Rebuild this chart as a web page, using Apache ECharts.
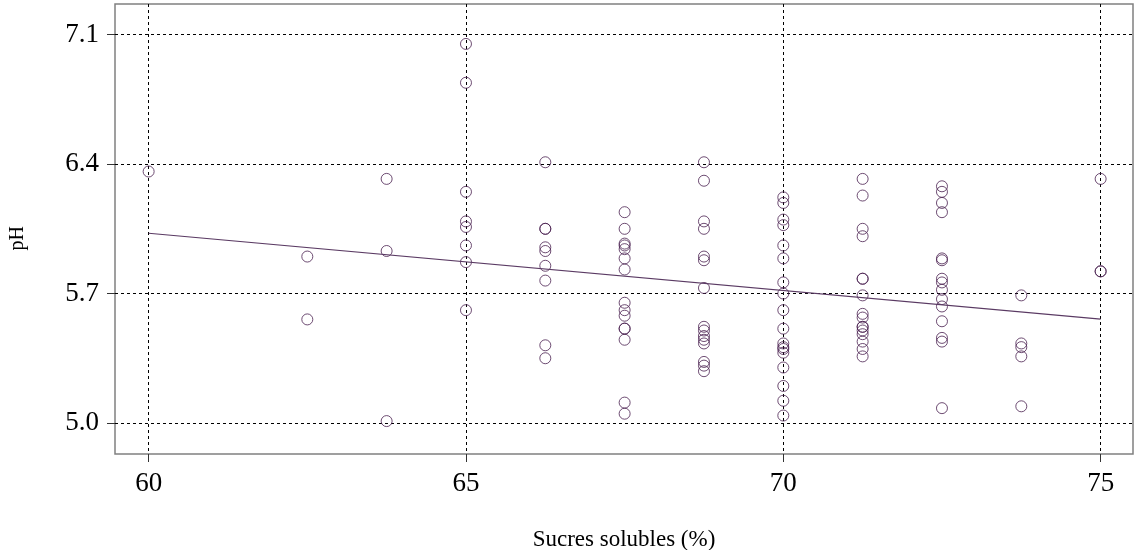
<!DOCTYPE html>
<html>
<head>
<meta charset="utf-8">
<script src="https://cdn.jsdelivr.net/npm/echarts@6/dist/echarts.min.js"></script>
<style>
  html, body { margin: 0; padding: 0; background: #fff; }
  #chart { width: 1134px; height: 550px; }
</style>
</head>
<body>
<div id="chart"></div>
<script>
// ---- Data ----
const xTicks = [60, 65, 70, 75];
const yTicks = [5.0, 5.7, 6.4, 7.1];

const ph_60_00 = [6.36];
const ph_62_50 = [5.90, 5.56];
const ph_63_75 = [6.32, 5.93, 5.01];
const ph_65_00 = [7.05, 6.84, 6.25, 6.09, 6.06, 5.96, 5.87, 5.61];
const ph_66_25 = [6.41, 6.05, 6.05, 5.95, 5.93, 5.85, 5.77, 5.42, 5.35];
const ph_67_50 = [6.14, 6.05, 5.97, 5.96, 5.94, 5.89, 5.83, 5.65, 5.61, 5.58, 5.51, 5.51, 5.45, 5.11, 5.05];
const ph_68_75 = [6.41, 6.31, 6.09, 6.05, 5.90, 5.88, 5.73, 5.52, 5.50, 5.47, 5.45, 5.43, 5.33, 5.31, 5.28];
const ph_70_00 = [6.22, 6.19, 6.10, 6.07, 5.96, 5.89, 5.76, 5.70, 5.61, 5.51, 5.43, 5.41, 5.40, 5.38, 5.30, 5.20, 5.12, 5.04];
const ph_71_25 = [6.32, 6.23, 6.05, 6.01, 5.78, 5.78, 5.69, 5.59, 5.57, 5.52, 5.52, 5.50, 5.48, 5.44, 5.40, 5.36];
const ph_72_50 = [6.28, 6.25, 6.19, 6.14, 5.89, 5.88, 5.78, 5.76, 5.72, 5.67, 5.63, 5.55, 5.46, 5.44, 5.08];
const ph_73_75 = [5.69, 5.43, 5.41, 5.36, 5.09];
const ph_75_00 = [6.32, 5.82, 5.82];

const sugarLevels = [60, 62.5, 63.75, 65, 66.25, 67.5, 68.75, 70, 71.25, 72.5, 73.75, 75];
const phColumns = [ph_60_00, ph_62_50, ph_63_75, ph_65_00, ph_66_25, ph_67_50,
                   ph_68_75, ph_70_00, ph_71_25, ph_72_50, ph_73_75, ph_75_00];

// fitted regression line end points
const fitX = [60, 75];
const fitY = [6.026, 5.562];

const xTitle = 'Sucres solubles (%)';
const yTitle = 'pH';

// ---- Build chart ----
const points = [];
sugarLevels.forEach((x, i) => phColumns[i].forEach(v => points.push([x, v])));
const fitLine = fitX.map((x, i) => [x, fitY[i]]);

const serif = "'Liberation Serif', 'DejaVu Serif', serif";
const chart = echarts.init(document.getElementById('chart'), null, { renderer: 'canvas' });
chart.setOption({
  backgroundColor: '#ffffff',
  animation: false,
  grid: {
    left: 115, right: 1, top: 4, bottom: 96,
    outerBoundsMode: 'none', containLabel: false,
    show: true, borderColor: '#808080', borderWidth: 1.5, backgroundColor: 'transparent'
  },
  graphic: [{
    type: 'text', left: 8, top: 226, rotation: Math.PI / 2,
    style: { text: yTitle, fontFamily: serif, fontSize: 20, fill: '#000' }
  }],
  xAxis: {
    type: 'value', min: 59.47, max: 75.51,
    name: xTitle, nameLocation: 'middle', nameGap: 74,
    nameTextStyle: { fontFamily: serif, fontSize: 23, color: '#000' },
    axisLine: { show: false },
    axisTick: { show: true, customValues: xTicks, length: 8, lineStyle: { color: '#333', width: 1 } },
    axisLabel: { customValues: xTicks, fontFamily: serif, fontSize: 27, color: '#000', margin: 16 },
    splitLine: { show: true, lineStyle: { color: '#000', width: 1, type: [3, 3] } }
  },
  yAxis: {
    type: 'value', min: 4.832, max: 7.266,
    axisLine: { show: false },
    axisTick: { show: true, customValues: yTicks, length: 8, lineStyle: { color: '#333', width: 1 } },
    axisLabel: { customValues: yTicks, fontFamily: serif, fontSize: 27, color: '#000', margin: 16,
                 formatter: v => v.toFixed(1) },
    splitLine: { show: true, lineStyle: { color: '#000', width: 1, type: [3, 3] } }
  },
  series: [
    {
      type: 'scatter', data: points, symbol: 'circle', symbolSize: 11,
      itemStyle: { color: 'rgba(0,0,0,0)', borderColor: '#4a2050', borderWidth: 1 }
    },
    {
      type: 'line', data: fitLine, symbol: 'none', silent: true,
      lineStyle: { color: '#5a3a63', width: 1.2 }
    }
  ]
});
</script>
</body>
</html>
